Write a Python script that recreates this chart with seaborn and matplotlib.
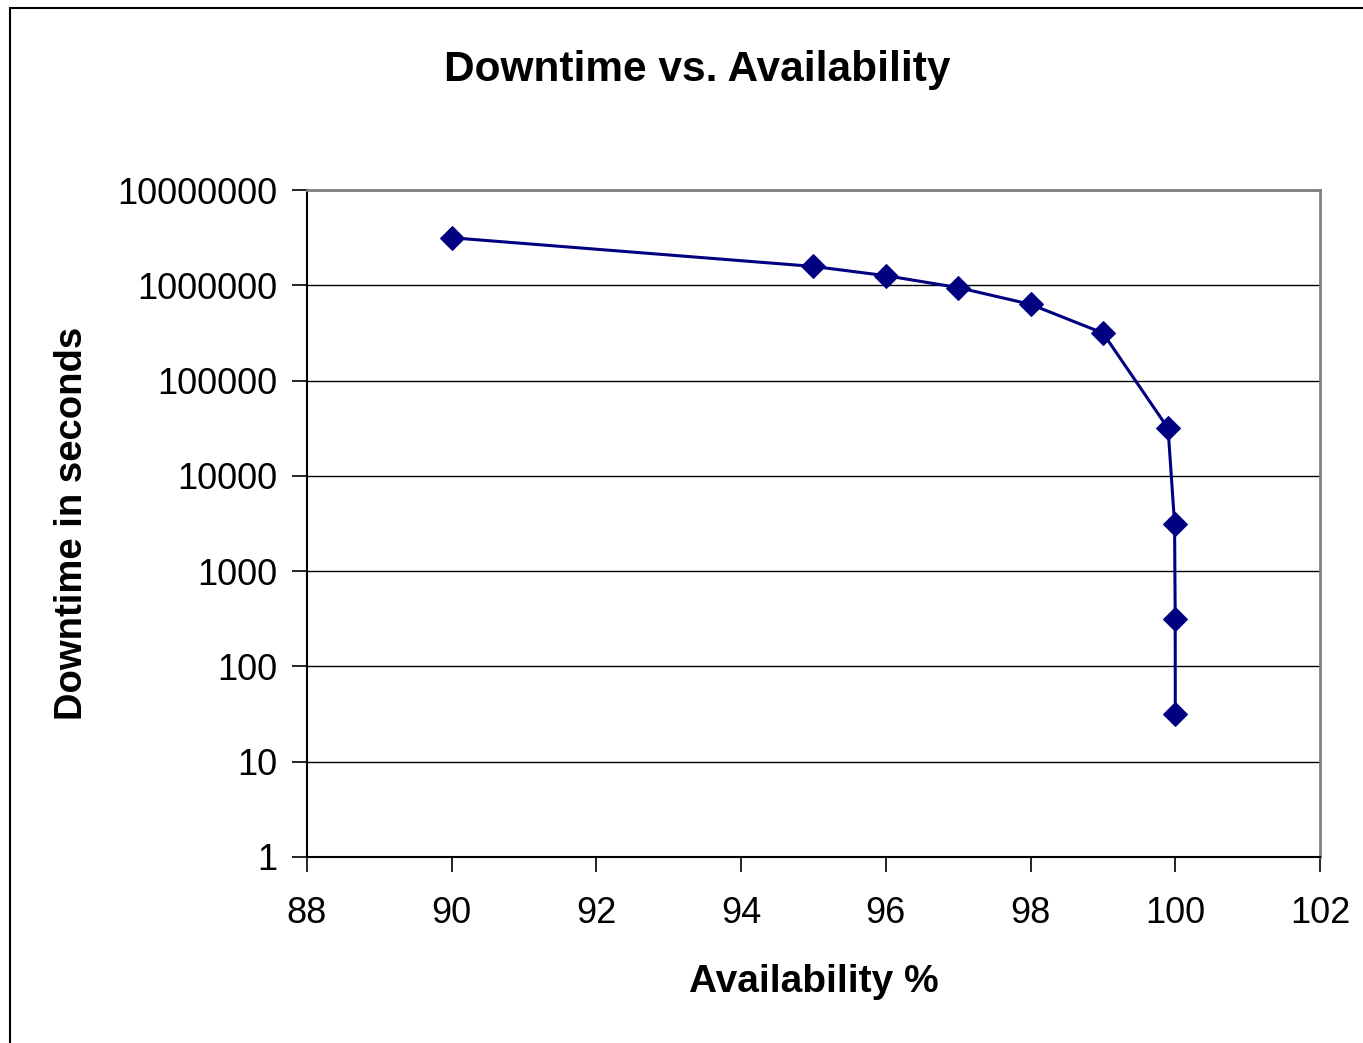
import matplotlib
matplotlib.use("Agg")
import matplotlib.pyplot as plt
import matplotlib.ticker as mticker
import seaborn as sns
import pandas as pd

# Availability levels and the corresponding yearly downtime (seconds)
availability = [90, 95, 96, 97, 98, 99, 99.9, 99.99, 99.999, 99.9999]
downtime = [3153600, 1576800, 1261440, 946080, 630720, 315360,
            31536, 3153.6, 315.36, 31.536]

x_ticks = [88, 90, 92, 94, 96, 98, 100, 102]
y_ticks = [1, 10, 100, 1000, 10000, 100000, 1000000, 10000000]

df = pd.DataFrame({"availability": availability, "downtime": downtime})

sns.set_theme(style="white")
plt.rcParams["font.family"] = ["Liberation Sans", "DejaVu Sans"]

W, H = 1363, 1043
fig = plt.figure(figsize=(W / 100, H / 100), dpi=100)
ax = fig.add_axes([307 / W, 1 - 857 / H, (1320 - 307) / W, (857 - 190) / H])

navy = "#000080"
sns.lineplot(data=df, x="availability", y="downtime", ax=ax, color=navy,
             linewidth=2.2, marker="D", markersize=12, markeredgecolor=navy,
             markerfacecolor=navy, sort=False)

ax.set_yscale("log")
ax.set_xlim(88, 102)
ax.set_ylim(1, 10000000)
ax.set_xticks(x_ticks)
ax.set_yticks(y_ticks)
ax.yaxis.set_major_formatter(mticker.FuncFormatter(lambda v, p: f"{int(round(v))}"))
ax.yaxis.set_minor_locator(mticker.NullLocator())
ax.xaxis.set_major_formatter(mticker.FuncFormatter(lambda v, p: f"{int(v)}"))

ax.grid(True, axis="y", color="black", linewidth=1.0)
ax.grid(False, axis="x")
ax.set_axisbelow(True)

ax.tick_params(axis="both", which="major", direction="out", length=11, width=1.2,
               color="black", labelsize=26, labelcolor="black", pad=10,
               bottom=True, left=True)
ax.tick_params(axis="x", pad=17)

for side in ("left", "bottom"):
    ax.spines[side].set_color("black")
    ax.spines[side].set_linewidth(1.5)
for side in ("top", "right"):
    ax.spines[side].set_color("#808080")
    ax.spines[side].set_linewidth(2.0)

ax.set_xlabel("Availability %", fontsize=28, fontweight="bold", labelpad=24,
              color="black")
ax.set_ylabel("Downtime in seconds", fontsize=27.5, fontweight="bold", labelpad=20,
              color="black")

fig.text(697 / W, 1 - 70 / H, "Downtime vs. Availability", fontsize=30.5,
         fontweight="bold", ha="center", va="center", color="black")

# Outer chart frame
frame = plt.Rectangle((10 / W, -0.01), 1.2, 1 - 8 / H + 0.01,
                      transform=fig.transFigure, fill=False,
                      edgecolor="black", linewidth=1.5)
fig.add_artist(frame)

fig.savefig("out.png", dpi=100, facecolor="white")
